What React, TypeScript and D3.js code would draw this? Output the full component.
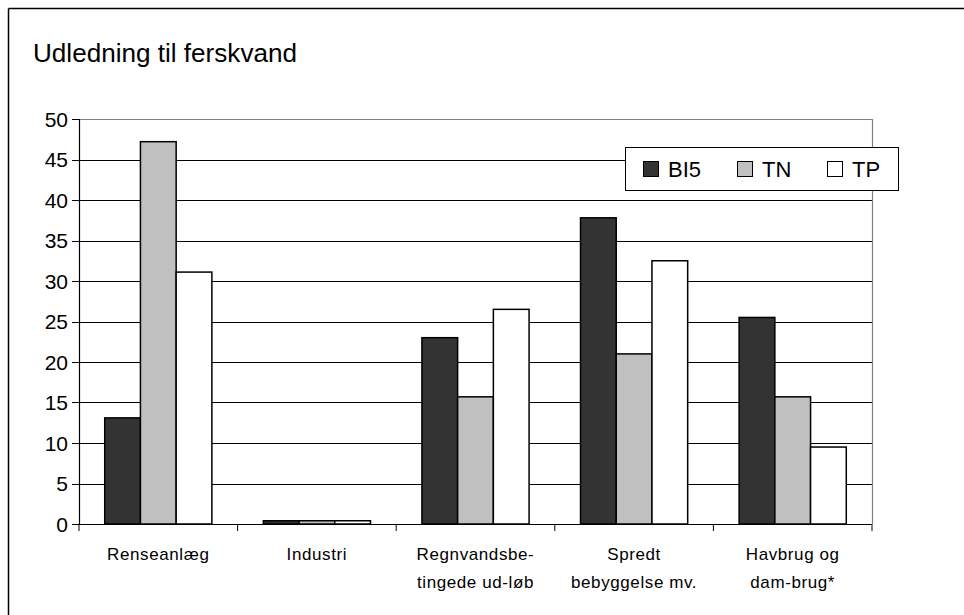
import React from "react";
import * as d3 from "d3";

const categories: string[][] = [
  ["Renseanlæg"],
  ["Industri"],
  ["Regnvandsbe-", "tingede ud-løb"],
  ["Spredt", "bebyggelse mv."],
  ["Havbrug og", "dam-brug*"],
];
const seriesNames = ["BI5", "TN", "TP"];
const seriesColors = ["#333333", "#c0c0c0", "#ffffff"];
const bi5 = [13.1, 0.4, 23.0, 37.8, 25.5];
const tn = [47.2, 0.4, 15.7, 21.0, 15.7];
const tp = [31.1, 0.4, 26.5, 32.5, 9.5];
const yTicks = [0, 5, 10, 15, 20, 25, 30, 35, 40, 45, 50];
const title = "Udledning til ferskvand";

const FONT = "'Liberation Sans', Arial, sans-serif";

export default function App() {
  const W = 964, H = 615;
  const left = 79, right = 872, top = 119, bottom = 524;
  const values = [bi5, tn, tp];
  const y = d3.scaleLinear().domain([0, 50]).range([bottom, top]);
  const x0 = d3.scaleBand<number>().domain(d3.range(categories.length)).range([left, right]).padding(0);
  const x1 = d3.scaleBand<number>().domain(d3.range(seriesNames.length)).range([0, x0.bandwidth()]).paddingInner(0).paddingOuter(0.72);

  return (
    <svg width={W} height={H} style={{ position: "absolute", left: 0, top: 0, background: "#fff" }} fontFamily={FONT}>
      <rect x={0} y={0} width={W} height={H} fill="#fff" />
      {/* outer frame */}
      <line x1={8.5} y1={8.5} x2={W + 10} y2={8.5} stroke="#000" strokeWidth={1.5} />
      <line x1={8.5} y1={8.5} x2={8.5} y2={H + 10} stroke="#000" strokeWidth={1.5} />
      <text x={33} y={62} fontSize={25} fill="#000" textLength={264} lengthAdjust="spacingAndGlyphs">{title}</text>
      {/* gridlines */}
      {yTicks.map((t) => (
        <line key={"g" + t} x1={left} x2={right} y1={Math.round(y(t)) + 0.5} y2={Math.round(y(t)) + 0.5}
          stroke={t === 50 ? "#808080" : "#000"} strokeWidth={1} />
      ))}
      {/* plot area right border */}
      <line x1={right + 0.5} x2={right + 0.5} y1={top} y2={bottom} stroke="#808080" strokeWidth={1.2} />
      {/* bars */}
      {categories.map((c, i) => (
        <g key={"c" + i} transform={`translate(${x0(i)},0)`}>
          {values.map((s, j) => (
            <rect key={j} x={x1(j)} y={y(s[i])} width={x1.bandwidth()} height={y(0) - y(s[i])}
              fill={seriesColors[j]} stroke="#000" strokeWidth={1.5} />
          ))}
        </g>
      ))}
      {/* y axis */}
      <line x1={left + 0.5} x2={left + 0.5} y1={top} y2={bottom} stroke="#000" strokeWidth={1.2} />
      {yTicks.map((t) => (
        <g key={"t" + t}>
          <line x1={72} x2={left} y1={Math.round(y(t)) + 0.5} y2={Math.round(y(t)) + 0.5} stroke="#000" />
          <text x={68} y={y(t) + 7.5} fontSize={21} textAnchor="end" fill="#000">{t}</text>
        </g>
      ))}
      {/* x axis */}
      <line x1={left} x2={right} y1={bottom + 0.5} y2={bottom + 0.5} stroke="#000" strokeWidth={1.2} />
      {d3.range(categories.length + 1).map((i) => {
        const xx = left + i * x0.step();
        return <line key={"xt" + i} x1={xx} x2={xx} y1={bottom} y2={bottom + 7} stroke="#000" />;
      })}
      {categories.map((c, i) => (
        <text key={"xl" + i} x={(x0(i) as number) + x0.bandwidth() / 2} y={560} fontSize={17} letterSpacing={0.6} textAnchor="middle" fill="#000">
          {c.map((line, k) => (
            <tspan key={k} x={(x0(i) as number) + x0.bandwidth() / 2} dy={k === 0 ? 0 : 28}>{line}</tspan>
          ))}
        </text>
      ))}
      {/* legend */}
      <rect x={625.5} y={147.5} width={273} height={43} fill="#fff" stroke="#000" strokeWidth={1} />
      {seriesNames.map((n, j) => {
        const sx = [643, 737, 827][j];
        return (
          <g key={"lg" + j}>
            <rect x={sx + 0.5} y={161.5} width={15} height={15} fill={seriesColors[j]} stroke="#000" strokeWidth={1} />
            <text x={sx + 25} y={176.5} fontSize={22} fill="#000">{n}</text>
          </g>
        );
      })}
    </svg>
  );
}
